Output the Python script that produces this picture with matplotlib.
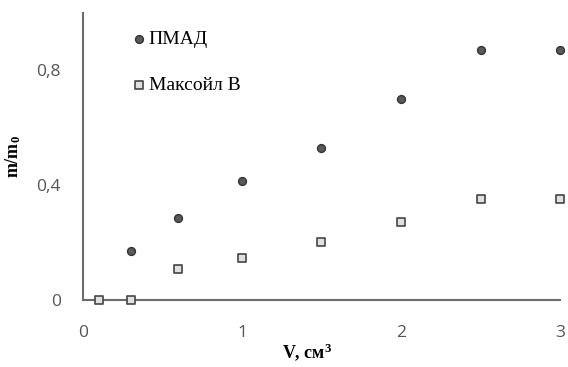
import matplotlib.pyplot as plt

volume_pmad = [0.3, 0.6, 1.0, 1.5, 2.0, 2.5, 3.0]
ratio_pmad = [0.17, 0.285, 0.415, 0.53, 0.70, 0.87, 0.87]

volume_maxoil = [0.1, 0.3, 0.6, 1.0, 1.5, 2.0, 2.5, 3.0]
ratio_maxoil = [0.0, 0.0, 0.108, 0.147, 0.20, 0.27, 0.35, 0.35]

x_ticks = [0, 1, 2, 3]
y_ticks = [0, 0.4, 0.8]
y_tick_labels = ["0", "0,4", "0,8"]

plt.rcParams["mathtext.fontset"] = "custom"
plt.rcParams["mathtext.rm"] = "Liberation Serif:bold"
plt.rcParams["mathtext.it"] = "Liberation Serif:bold"
plt.rcParams["mathtext.bf"] = "Liberation Serif:bold"

fig = plt.figure(figsize=(5.68, 3.67), dpi=100)
ax = fig.add_axes([0.146, 0.183, 0.84, 0.782])

ax.scatter(volume_pmad, ratio_pmad, marker="o", s=32, color="#5a5a5a",
           edgecolors="#333333", linewidths=1.0, label="ПМАД", zorder=3, clip_on=False)
ax.scatter(volume_maxoil, ratio_maxoil, marker="s", s=30, color="#e0e0e0",
           edgecolors="#444444", linewidths=1.2, label="Максойл В", zorder=3, clip_on=False)

ax.set_xlim(0, 3)
ax.set_ylim(0, 1.0)
ax.set_xticks(x_ticks)
ax.set_yticks(y_ticks)
ax.set_yticklabels(y_tick_labels)

for side in ["top", "right"]:
    ax.spines[side].set_visible(False)
for side in ["left", "bottom"]:
    ax.spines[side].set_color("#6b6b6b")
    ax.spines[side].set_linewidth(1.5)

ax.tick_params(axis="both", length=0, labelsize=12.5, labelcolor="#555555")
ax.tick_params(axis="x", pad=18)
ax.tick_params(axis="y", pad=16)
for lbl in ax.get_xticklabels() + ax.get_yticklabels():
    lbl.set_family("Open Sans")

ax.set_xlabel("V, см$^3$", fontfamily="Liberation Serif", fontweight="bold", fontsize=13)
ax.xaxis.set_label_coords(0.47, -0.145)
ax.set_ylabel("m/m$_0$", fontfamily="Liberation Serif", fontweight="bold", fontsize=13)
ax.yaxis.set_label_coords(-0.125, 0.5)

ax.legend(loc="upper left", bbox_to_anchor=(0.105, 0.94), frameon=False,
          prop={"family": "Liberation Serif", "size": 14}, handlelength=0.6,
          handletextpad=0.2, labelspacing=1.5, borderpad=0, borderaxespad=0)

fig.savefig("out.png", dpi=100)
